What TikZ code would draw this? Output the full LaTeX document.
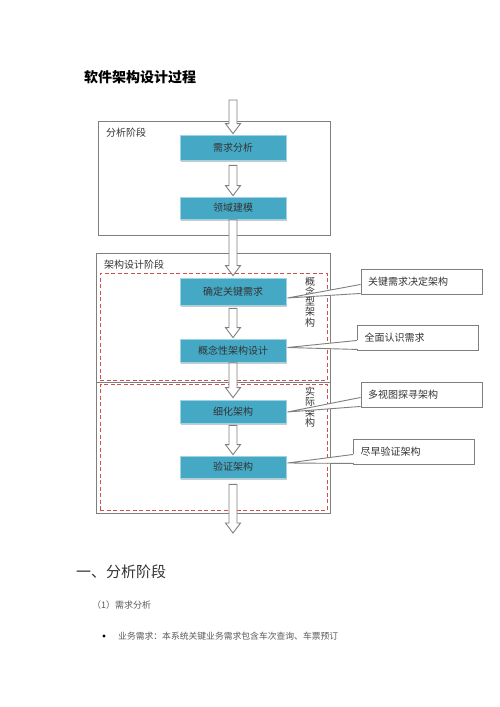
\documentclass[tikz,border=0pt]{standalone}
\usepackage{fontspec}
\setmainfont{Noto Sans CJK SC}
\usetikzlibrary{shadows,calc}
\definecolor{tealbox}{HTML}{45A9C6}
\definecolor{tealedge}{HTML}{9FD2E2}
\definecolor{framegray}{HTML}{7F7F7F}
\definecolor{dashred}{HTML}{D05050}
\definecolor{txt}{HTML}{333333}
\tikzset{
  frame/.style={draw=framegray, line width=0.9pt, inner sep=0pt},
  dashbox/.style={draw=dashred, dash pattern=on 4pt off 2.5pt, line width=0.8pt, inner sep=0pt},
  proc/.style={fill=tealbox, draw=tealedge, line width=0.8pt, minimum width=106pt, inner sep=0pt,
    text=txt, font=\fontsize{10}{12}\selectfont,
    drop shadow={shadow xshift=0.8pt, shadow yshift=-2pt, fill=black!35, opacity=0.6}},
  hollow/.style={draw=framegray, fill=white, line width=0.9pt, line join=miter},
  callout/.style={draw=framegray, fill=white, line width=0.9pt, minimum height=25pt, inner xsep=7pt,
    text width=#1, align=left, text=txt, font=\fontsize{10}{12}\selectfont},
  callout/.default=107pt,
  wedge/.style={draw=framegray, fill=white, line width=0.9pt},
  lbl/.style={inner sep=0pt, anchor=west, text=txt},
  vlbl/.style={inner sep=0pt, align=center, text=txt, font=\fontsize{10}{10.2}\selectfont},
}
\newcommand\harrow[2]{%
  \draw[hollow] let \p1=#1, \p2=#2 in
    (\x1-4pt,\y1) -- (\x1-4pt,\y2+10pt) -- (\x1-7.5pt,\y2+10pt) -- (\x1,\y2)
    -- (\x1+7.5pt,\y2+10pt) -- (\x1+4pt,\y2+10pt) -- (\x1+4pt,\y1) -- cycle;}
\newcommand\pointer[2]{% callout node, tip coordinate
  \fill[white] ($(#1.south west)+(-0.6,-10)$) rectangle ($(#1.south west)+(0.6,-1)$);
  \draw[wedge] ($(#1.south west)+(0,-10)$) -- #2 -- ($(#1.south west)+(0,-1)$);}
\begin{document}
\begin{tikzpicture}[x=1pt,y=-1pt]
\useasboundingbox (0,0) rectangle (500,707);

% title
\node[lbl, font=\fontsize{14}{16}\selectfont\bfseries, text=black] (title) at (84,77) {软件架构设计过程};

% frames
\node[frame, minimum width=232pt, minimum height=114pt] (f1) at (214,178) {};
\node[lbl, font=\fontsize{10}{12}\selectfont] (l1) at (106,133) {分析阶段};
\node[frame, minimum width=234pt, minimum height=260pt] (f2) at (213,383) {};
\node[lbl, font=\fontsize{10}{12}\selectfont] (l2) at (104,265) {架构设计阶段};
\draw[framegray, line width=0.9pt] (f2.west |- 0,382) -- (f2.east |- 0,382);
\node[dashbox, minimum width=227pt, minimum height=107pt] (d1) at (213.5,326.5) {};
\node[dashbox, minimum width=227pt, minimum height=126pt] (d2) at (213.5,447) {};

% vertical labels
\node[vlbl] (v1) at (310,302) {概\\念\\型\\架\\构};
\node[vlbl, font=\fontsize{10}{10.5}\selectfont] (v2) at (310,407) {实\\际\\架\\构};

% process boxes
\node[proc, minimum height=25pt] (n1) at (233,147.5) {需求分析};
\node[proc, minimum height=22pt] (n2) at (233,208) {领域建模};
\node[proc, minimum height=27pt] (n3) at (233,291.5) {确定关键需求};
\node[proc, minimum height=23pt] (n4) at (233,350.5) {概念性架构设计};
\node[proc, minimum height=23pt] (n5) at (233,411.5) {细化架构};
\node[proc, minimum height=22pt] (n6) at (233,467) {验证架构};

% hollow arrows
\coordinate (top) at (233,100);
\coordinate (bot) at (233,533);
\harrow{(top)}{($(n1.north)+(0,-1)$)}
\harrow{($(n1.south)+(0,5)$)}{($(n2.north)+(0,-1)$)}
\harrow{($(n2.south)+(0,0.5)$)}{($(n3.north)+(0,-2)$)}
\harrow{($(n3.south)+(0,3)$)}{($(n4.north)+(0,-1)$)}
\harrow{($(n4.south)+(0,0.5)$)}{($(n5.north)+(0,-2)$)}
\harrow{($(n5.south)+(0,2)$)}{($(n6.north)+(0,-1)$)}
\harrow{($(n6.south)+(0,6)$)}{(bot)}

% callouts
\node[callout] (c1) at (421.5,281.5) {关键需求决定架构};
\node[callout] (c2) at (418,337.5) {全面认识需求};
\node[callout] (c3) at (421.5,394.5) {多视图探寻架构};
\node[callout] (c4) at (414,451.5) {尽早验证架构};
\coordinate (t1) at ($(n3.east)+(1,6.5)$);
\coordinate (t2) at ($(n4.east)+(1,-3)$);
\coordinate (t3) at ($(n5.east)+(1,0.5)$);
\coordinate (t4) at ($(n6.east)+(1,-4)$);
\pointer{c1}{(t1)}
\pointer{c2}{(t2)}
\pointer{c3}{(t3)}
\pointer{c4}{(t4)}

% text below
\node[lbl, font=\fontsize{15}{17}\selectfont] (h1) at (76,572) {一、分析阶段};
\node[lbl, font=\fontsize{9}{11}\selectfont, text=black!65] (h2) at (92,605) {（1）需求分析};
\fill[black] (104,636) circle (1.6) coordinate (bul);
\node[lbl, font=\fontsize{8.8}{11}\selectfont, text=black!65] (b1) at (118,636) {业务需求：本系统关键业务需求包含车次查询、车票预订};
\end{tikzpicture}
\end{document}
